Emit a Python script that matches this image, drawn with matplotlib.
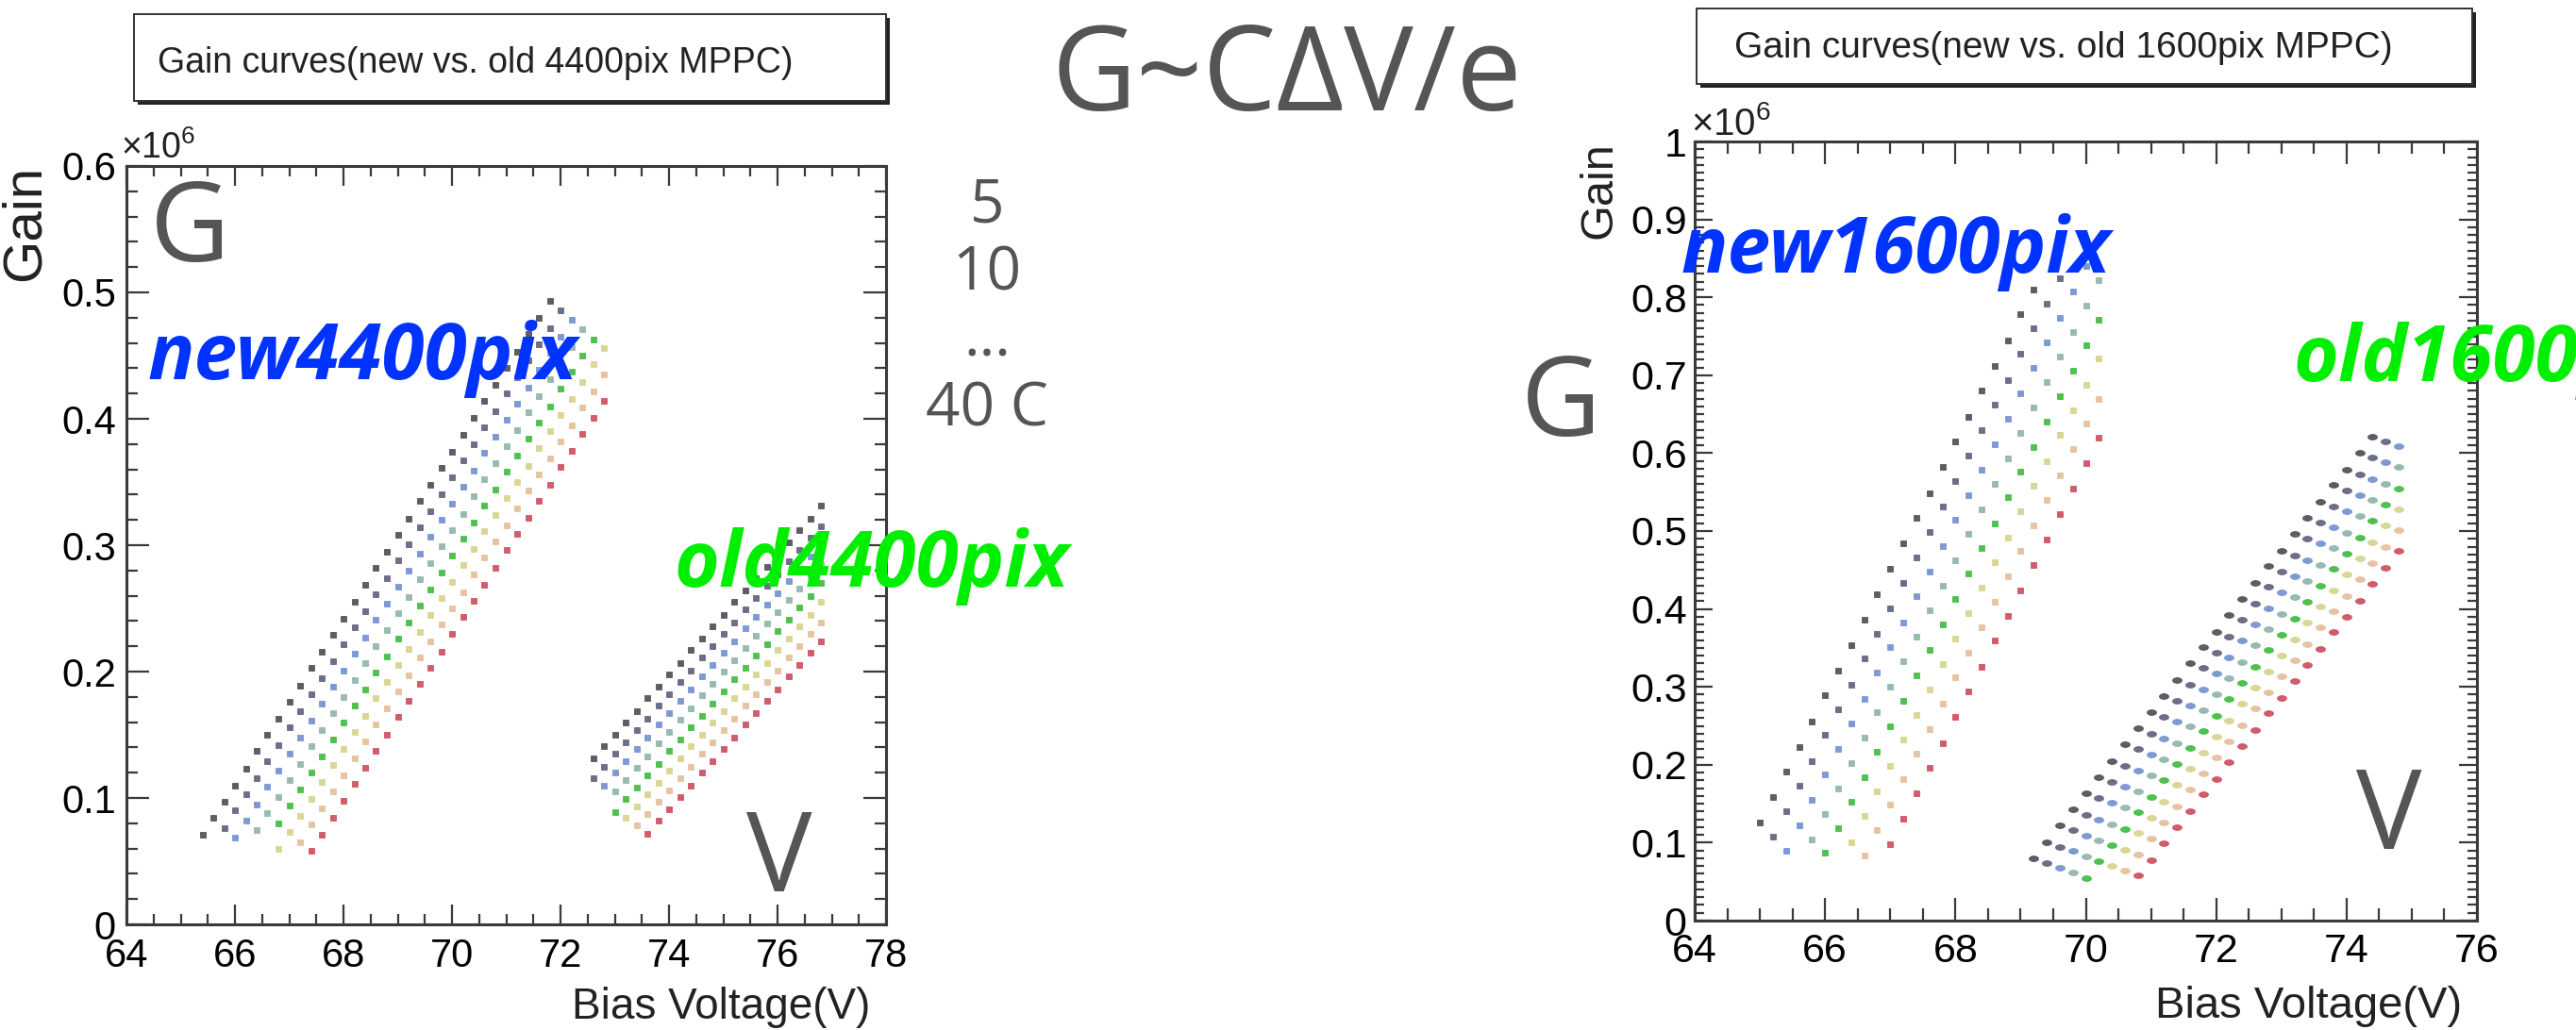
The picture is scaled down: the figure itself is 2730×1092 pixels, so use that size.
import matplotlib

matplotlib.use("Agg")
import matplotlib.pyplot as plt
from matplotlib.markers import MarkerStyle
from matplotlib.patches import Rectangle
from matplotlib.ticker import FuncFormatter, MultipleLocator
from matplotlib.transforms import Affine2D

W, H = 2730, 1092

# temperature scan 5..40 C, one colour per temperature (ROOT palette, as seen in the image)
TEMPERATURES = [5, 10, 15, 20, 25, 30, 35, 40]
TEMP_COLORS = ["#4d4a52", "#5e5e7c", "#6f8fd0", "#8db3a9", "#3dba3d", "#d6d28a", "#e4be98", "#cb4a5c"]

# ---- new 4400pix (left plot) ----
NEW4400_VOLT = [65.4, 65.6, 65.8, 66.0, 66.2, 66.4, 66.6, 66.8, 67.0, 67.2, 67.4, 67.6, 67.8,
                68.0, 68.2, 68.4, 68.6, 68.8, 69.0, 69.2, 69.4, 69.6, 69.8, 70.0, 70.2, 70.4,
                70.6, 70.8, 71.0, 71.2, 71.4, 71.6, 71.8, 72.0, 72.2, 72.4, 72.6, 72.8]
NEW4400_FIRST = [0, 2, 3, 5, 7, 7, 9, 10]
NEW4400_GAIN = [
    [.071, .084, .097, .110, .123, .137, .150, .163, .176, .189, .203, .216, .229, .242, .255, .269, .282,
     .295, .308, .321, .335, .348, .361, .374, .387, .401, .414, .427, .440, .453, .467, .480, .493],
    [.076, .090, .103, .116, .129, .142, .156, .169, .182, .195, .208, .222, .235, .248, .261, .274,
     .288, .301, .314, .327, .340, .354, .367, .380, .393, .406, .420, .433, .446, .459, .472, .486],
    [.069, .082, .095, .109, .122, .135, .148, .161, .175, .188, .201, .214, .227, .241, .254, .267,
     .280, .293, .307, .320, .333, .346, .359, .373, .386, .399, .412, .425, .439, .452, .465, .478],
    [.075, .088, .101, .114, .127, .141, .154, .167, .180, .193, .207, .220, .233, .246, .259, .273,
     .286, .299, .312, .325, .339, .352, .365, .378, .391, .405, .418, .431, .444, .457, .471],
    [.080, .094, .107, .120, .133, .146, .160, .173, .186, .199, .212, .226, .239, .252, .265, .278,
     .292, .305, .318, .331, .344, .358, .371, .384, .397, .410, .424, .437, .450, .463],
    [.060, .073, .086, .099, .113, .126, .139, .152, .165, .179, .192, .205, .218, .231, .245, .258,
     .271, .284, .297, .311, .324, .337, .350, .363, .377, .390, .403, .416, .429, .443, .456],
    [.065, .079, .092, .105, .118, .131, .145, .158, .171, .184, .197, .211, .224, .237, .250, .263,
     .277, .290, .303, .316, .329, .343, .356, .369, .382, .395, .409, .422, .435],
    [.058, .071, .084, .098, .111, .124, .137, .150, .164, .177, .190, .203, .216, .230, .243, .256,
     .269, .282, .296, .309, .322, .335, .348, .362, .375, .388, .401, .414],
]

# ---- old 4400pix (left plot) ----
OLD4400_VOLT = [72.6, 72.8, 73.0, 73.2, 73.4, 73.6, 73.8, 74.0, 74.2, 74.4, 74.6,
                74.8, 75.0, 75.2, 75.4, 75.6, 75.8, 76.0, 76.2, 76.4, 76.6, 76.8]
OLD4400_FIRST = [0, 0, 1, 2, 2, 3, 4, 5]
OLD4400_GAIN = [
    [.131, .141, .150, .160, .169, .179, .188, .198, .207, .217, .226, .236, .245, .255, .264, .274,
     .283, .293, .302, .312, .321, .331],
    [.116, .125, .135, .144, .154, .163, .173, .182, .192, .201, .211, .220, .230, .239, .249, .258,
     .268, .277, .287, .296, .306, .315],
    [.110, .120, .129, .139, .148, .158, .167, .177, .186, .196, .205, .215, .224, .234, .243, .253,
     .262, .272, .281, .291, .300],
    [.105, .114, .124, .133, .143, .152, .162, .171, .181, .190, .200, .209, .219, .228, .238, .247,
     .257, .266, .276, .285],
    [.089, .099, .108, .118, .127, .137, .146, .156, .165, .175, .184, .194, .203, .213, .222, .232,
     .241, .251, .260, .270],
    [.084, .093, .103, .112, .122, .131, .141, .150, .160, .169, .179, .188, .198, .207, .217, .226,
     .236, .245, .255],
    [.078, .087, .097, .106, .116, .125, .135, .144, .154, .163, .173, .182, .192, .201, .211, .220,
     .230, .239],
    [.072, .082, .091, .101, .110, .120, .129, .139, .148, .158, .167, .177, .186, .196, .205, .215, .224],
]

# ---- new 1600pix (right plot) ----
NEW1600_VOLT = [65.0, 65.2, 65.4, 65.6, 65.8, 66.0, 66.2, 66.4, 66.6, 66.8, 67.0, 67.2, 67.4, 67.6,
                67.8, 68.0, 68.2, 68.4, 68.6, 68.8, 69.0, 69.2, 69.4, 69.6, 69.8, 70.0, 70.2]
NEW1600_FIRST = [0, 1, 2, 4, 5, 7, 8, 10]
NEW1600_GAIN = [
    [.126, .158, .191, .223, .256, .289, .321, .354, .386, .419, .452, .484, .517, .549, .582, .615,
     .647, .680, .712, .745, .778, .810],
    [.108, .140, .173, .205, .238, .271, .303, .336, .368, .401, .434, .466, .499, .531, .564, .597,
     .629, .662, .694, .727, .760, .792, .825],
    [.090, .122, .155, .188, .220, .253, .285, .318, .351, .383, .416, .448, .481, .514, .546, .579,
     .611, .644, .677, .709, .742, .774, .807, .840, .872],
    [.104, .137, .170, .202, .235, .267, .300, .333, .365, .398, .430, .463, .496, .528, .561, .593,
     .626, .659, .691, .724, .756, .789, .822],
    [.087, .119, .152, .184, .217, .250, .282, .315, .347, .380, .413, .445, .478, .510, .543, .576,
     .608, .641, .673, .706, .739, .771],
    [.101, .134, .166, .199, .232, .264, .297, .329, .362, .395, .427, .460, .492, .525, .558, .590,
     .623, .655, .688, .721],
    [.083, .116, .149, .181, .214, .246, .279, .312, .344, .377, .409, .442, .475, .507, .540, .572,
     .605, .638, .670],
    [.098, .131, .163, .196, .228, .261, .294, .326, .359, .391, .424, .457, .489, .522, .554, .587, .620],
]

# ---- old 1600pix (right plot) ----
OLD1600_VOLT = [69.2, 69.4, 69.6, 69.8, 70.0, 70.2, 70.4, 70.6, 70.8, 71.0, 71.2, 71.4, 71.6, 71.8, 72.0,
                72.2, 72.4, 72.6, 72.8, 73.0, 73.2, 73.4, 73.6, 73.8, 74.0, 74.2, 74.4, 74.6, 74.8]
OLD1600_FIRST = [0, 1, 2, 3, 4, 6, 7, 8]
OLD1600_GAIN = [
    [.080, .101, .122, .143, .163, .184, .205, .226, .247, .267, .288, .309, .330, .351, .371, .392,
     .413, .434, .455, .475, .496, .517, .538, .559, .579, .600, .621],
    [.074, .095, .116, .136, .157, .178, .199, .220, .240, .261, .282, .303, .324, .344, .365, .386,
     .407, .428, .448, .469, .490, .511, .532, .552, .573, .594, .615],
    [.068, .089, .109, .130, .151, .172, .193, .213, .234, .255, .276, .297, .317, .338, .359, .380,
     .401, .421, .442, .463, .484, .505, .525, .546, .567, .588, .609],
    [.062, .082, .103, .124, .145, .166, .186, .207, .228, .249, .270, .290, .311, .332, .353, .374,
     .394, .415, .436, .457, .478, .498, .519, .540, .561, .582],
    [.055, .076, .097, .118, .139, .159, .180, .201, .222, .243, .263, .284, .305, .326, .347, .367,
     .388, .409, .430, .451, .471, .492, .513, .534, .555],
    [.070, .091, .112, .132, .153, .174, .195, .216, .236, .257, .278, .299, .320, .340, .361, .382,
     .403, .424, .444, .465, .486, .507, .528],
    [.064, .085, .105, .126, .147, .168, .189, .209, .230, .251, .272, .293, .313, .334, .355, .376,
     .397, .417, .438, .459, .480, .501],
    [.058, .078, .099, .120, .141, .162, .182, .203, .224, .245, .266, .286, .307, .328, .349, .370,
     .390, .411, .432, .453, .474],
]

TITLE_LEFT = "Gain curves(new vs. old 4400pix MPPC)"
TITLE_RIGHT = "Gain curves(new vs. old 1600pix MPPC)"

SLIDE_GREY = "#555555"
BLUE = "#0033ff"
GREEN = "#00ee00"
FRAME = "#3a3a3a"

plt.rcParams["font.family"] = ["Liberation Sans", "DejaVu Sans"]
plt.rcParams["mathtext.fontset"] = "custom"
plt.rcParams["mathtext.rm"] = "Liberation Sans"
plt.rcParams["mathtext.it"] = "Liberation Sans:italic"
SLIDE_FONT = ["Open Sans", "DejaVu Sans"]


def fpos(x, y):
    """pixel position (top-left origin) -> figure fraction"""
    return x / W, 1 - y / H


def draw_curves(ax, volts, firsts, gains, marker, ms):
    for first, g, color in zip(firsts, gains, TEMP_COLORS):
        v = volts[first:first + len(g)]
        ax.plot(v, g[:len(v)], ls="none", marker=marker, ms=ms, color=color,
                mec=color, mew=0.6, alpha=0.9)


def root_frame(ax, xlim, ylim, yminor, xmaj_len, ymaj_len, labelsize, xpad, ypad):
    ax.set_xlim(*xlim)
    ax.set_ylim(*ylim)
    ax.xaxis.set_major_locator(MultipleLocator(2))
    ax.xaxis.set_minor_locator(MultipleLocator(0.5))
    ax.yaxis.set_major_locator(MultipleLocator(0.1))
    ax.yaxis.set_minor_locator(MultipleLocator(yminor))
    ax.yaxis.set_major_formatter(FuncFormatter(lambda v, _: f"{v:g}"))
    ax.tick_params(which="both", direction="in", top=True, right=True, color=FRAME, width=1.6)
    ax.tick_params(axis="x", which="major", length=xmaj_len, labelsize=labelsize, pad=xpad)
    ax.tick_params(axis="x", which="minor", length=xmaj_len * 0.55)
    ax.tick_params(axis="y", which="major", length=ymaj_len, labelsize=labelsize, pad=ypad)
    ax.tick_params(axis="y", which="minor", length=ymaj_len * 0.5)
    for s in ax.spines.values():
        s.set_linewidth(2.2)
        s.set_color(FRAME)


def title_box(x0, y0, x1, y1, text, tx, ty, size):
    shadow = Rectangle(fpos(x0 + 4, y1 + 4), (x1 - x0) / W, (y1 - y0) / H,
                       transform=fig.transFigure, facecolor="#222222", edgecolor="none")
    box = Rectangle(fpos(x0, y1), (x1 - x0) / W, (y1 - y0) / H,
                    transform=fig.transFigure, facecolor="white", edgecolor="#333333", lw=1.4)
    fig.add_artist(shadow)
    fig.add_artist(box)
    fig.text(*fpos(tx, ty), text, fontsize=size, color="#222222", va="baseline", ha="left")


fig = plt.figure(figsize=(W / 100, H / 100), dpi=100)
fig.patch.set_facecolor("white")

# left ROOT canvas
ax_l = fig.add_axes([134 / W, 1 - 980 / H, (939 - 134) / W, (980 - 176) / H])
draw_curves(ax_l, NEW4400_VOLT, NEW4400_FIRST, NEW4400_GAIN, "s", 3.7)
draw_curves(ax_l, OLD4400_VOLT, OLD4400_FIRST, OLD4400_GAIN, "s", 3.7)
root_frame(ax_l, (64, 78), (0, 0.6), 0.02, 15, 17, 30, 10, 8)
fig.text(*fpos(922, 1080), "Bias Voltage(V)", fontsize=33, ha="right", va="baseline", color="#222222")
fig.text(*fpos(27, 236), "Gain", fontsize=42, rotation=90, ha="center", va="center", color="#222222")
fig.text(*fpos(128, 168), r"$\times10^{6}$", fontsize=27, ha="left", va="baseline", color="#222222")
title_box(142, 15, 939, 107, TITLE_LEFT, 167, 77, 27)

# right ROOT canvas
ellipse = MarkerStyle("o", transform=Affine2D().scale(1.7, 1.0))
ax_r = fig.add_axes([1796 / W, 1 - 976 / H, (2625 - 1796) / W, (976 - 150) / H])
draw_curves(ax_r, NEW1600_VOLT, NEW1600_FIRST, NEW1600_GAIN, "s", 3.7)
draw_curves(ax_r, OLD1600_VOLT, OLD1600_FIRST, OLD1600_GAIN, ellipse, 4.2)
root_frame(ax_r, (64, 76), (0, 1.0), 0.01, 17, 14, 31, 9, 6)
fig.text(*fpos(2609, 1079), "Bias Voltage(V)", fontsize=34, ha="right", va="baseline", color="#222222")
fig.text(*fpos(1695, 202), "Gain", fontsize=35, rotation=90, ha="center", va="center", color="#222222")
fig.text(*fpos(1792, 143), r"$\times10^{6}$", fontsize=29, ha="left", va="baseline", color="#222222")
title_box(1798, 9, 2620, 89, TITLE_RIGHT, 1838, 61, 28)

# slide annotations
fig.text(*fpos(1114, 117), "G~C\u0394V/e", fontsize=89, color=SLIDE_GREY, family=SLIDE_FONT, va="baseline")
for txt, y in [("5", 236), ("10", 308), ("...", 378), ("40 C", 451)]:
    fig.text(*fpos(1046, y), txt, fontsize=46, color=SLIDE_GREY, family=SLIDE_FONT, ha="center", va="baseline")
for txt, x, y in [("G", 159, 277), ("V", 791, 945), ("G", 1612, 462), ("V", 2497, 900)]:
    fig.text(*fpos(x, y), txt, fontsize=84, color=SLIDE_GREY, family=SLIDE_FONT, va="baseline")

for txt, x, y, c in [("new4400pix", 157, 402, BLUE), ("old4400pix", 714, 622, GREEN),
                     ("new1600pix", 1782, 289, BLUE), ("old1600pix", 2430, 404, GREEN)]:
    fig.text(*fpos(x, y), txt, fontsize=59, color=c, family=SLIDE_FONT, weight="bold",
             style="italic", va="baseline")

fig.savefig("out.png", dpi=100, facecolor="white")
